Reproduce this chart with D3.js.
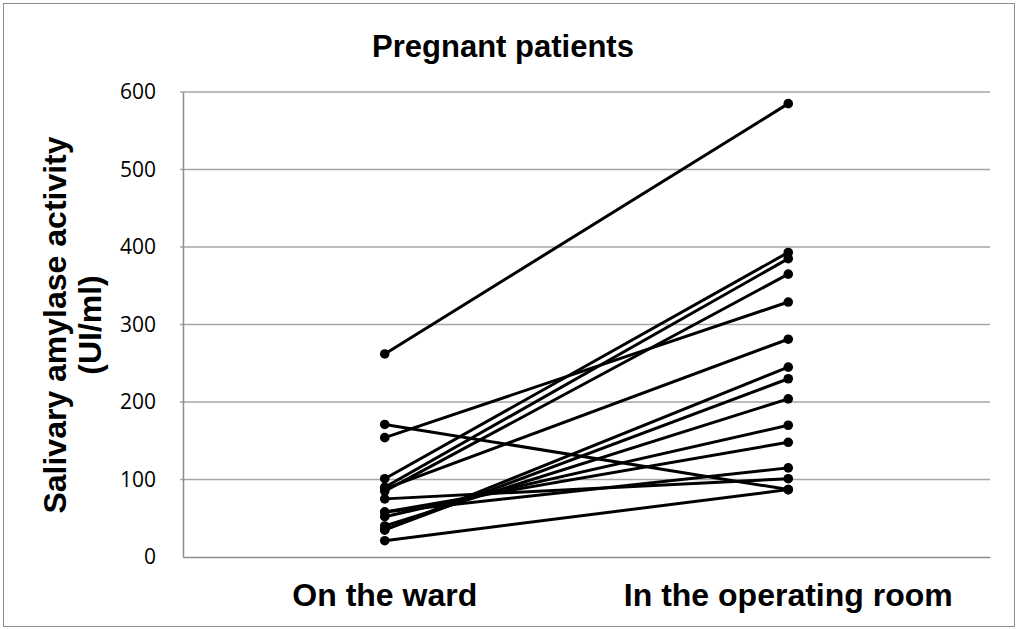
<!DOCTYPE html>
<html>
<head>
<meta charset="utf-8">
<script src="https://cdn.jsdelivr.net/npm/d3@7"></script>
<style>
  body { margin: 0; background: white; }
</style>
</head>
<body>
<script>
// categories and paired values (one line per patient)
var categories = ["On the ward", "In the operating room"];
var onWard = [262, 171, 154, 101, 90, 85, 88, 35, 35, 40, 52, 58, 58, 75, 21];
var inOR   = [585, 87, 329, 393, 385, 365, 281, 245, 230, 204, 170, 148, 115, 101, 87];
var yTicks = [0, 100, 200, 300, 400, 500, 600];

var width = 1017,
  height = 629;
var margin = {
  top: 92,
  bottom: 72,
  left: 183,
  right: 27
};

var svg = d3.select('body')
  .append('svg')
  .attr('width', width)
  .attr('height', height)
  .style('background', 'white');

// outer chart border
svg.append('rect')
  .attr('x', 3.5).attr('y', 3.5)
  .attr('width', width - 6).attr('height', height - 6)
  .attr('fill', 'none')
  .attr('stroke', '#8c8c8c')
  .attr('stroke-width', 1);

var yScale = d3.scaleLinear()
  .domain([0, 600])
  .range([height - margin.bottom, margin.top]);

var xScale = d3.scaleBand()
  .domain(categories)
  .range([margin.left, width - margin.right]);

var xPos = function(c) { return xScale(c) + xScale.bandwidth() / 2; };

// gridlines
svg.append('g')
  .selectAll('line')
  .data(yTicks.slice(1))
  .enter()
  .append('line')
  .attr('x1', margin.left - 3)
  .attr('x2', width - margin.right)
  .attr('y1', function(d) { return yScale(d); })
  .attr('y2', function(d) { return yScale(d); })
  .attr('stroke', '#a6a6a6')
  .attr('stroke-width', 1.5);

// y axis
var yAxis = svg.append('g')
  .attr('transform', `translate(${margin.left},0)`)
  .call(d3.axisLeft(yScale).tickValues(yTicks).tickSize(0).tickPadding(27));
yAxis.select('.domain').attr('stroke', '#8c8c8c').attr('stroke-width', 1.5);
yAxis.selectAll('text')
  .style('font-family', 'Open Sans, sans-serif')
  .style('font-size', '21px')
  .attr('fill', '#000');

// x axis
var xAxis = svg.append('g')
  .attr('transform', `translate(0,${height - margin.bottom})`)
  .call(d3.axisBottom(xScale).tickSize(0).tickPadding(26));
xAxis.select('.domain').attr('stroke', '#8c8c8c').attr('stroke-width', 1.5);
xAxis.selectAll('text')
  .style('font-family', 'Liberation Sans, Arial, sans-serif')
  .style('font-weight', 'bold')
  .style('font-size', '32px')
  .attr('fill', '#000');

// title
svg.append('text')
  .attr('x', 503)
  .attr('y', 57)
  .attr('text-anchor', 'middle')
  .style('font-family', 'Liberation Sans, Arial, sans-serif')
  .style('font-weight', 'bold')
  .style('font-size', '31px')
  .text('Pregnant patients');

// y label (two lines)
var yLabel = svg.append('text')
  .attr('transform', 'translate(66,325) rotate(-90)')
  .attr('text-anchor', 'middle')
  .style('font-family', 'Liberation Sans, Arial, sans-serif')
  .style('font-weight', 'bold')
  .style('font-size', '32px');
yLabel.append('tspan').attr('x', 0).attr('dy', 0).text('Salivary amylase activity');
yLabel.append('tspan').attr('x', 0).attr('dy', '1.1em').text('(UI/ml)');

// patient lines
var pairs = onWard.map(function(v, i) { return [v, inOR[i]]; });

svg.append('g')
  .selectAll('line')
  .data(pairs)
  .enter()
  .append('line')
  .attr('x1', xPos(categories[0]))
  .attr('x2', xPos(categories[1]))
  .attr('y1', function(d) { return yScale(d[0]); })
  .attr('y2', function(d) { return yScale(d[1]); })
  .attr('stroke', '#000')
  .attr('stroke-width', 3);

// markers
var dots = svg.append('g');
categories.forEach(function(c, k) {
  dots.selectAll('.dot' + k)
    .data(pairs)
    .enter()
    .append('circle')
    .attr('class', 'dot' + k)
    .attr('cx', xPos(c))
    .attr('cy', function(d) { return yScale(d[k]); })
    .attr('r', 4.8)
    .attr('fill', '#000');
});
</script>
</body>
</html>
